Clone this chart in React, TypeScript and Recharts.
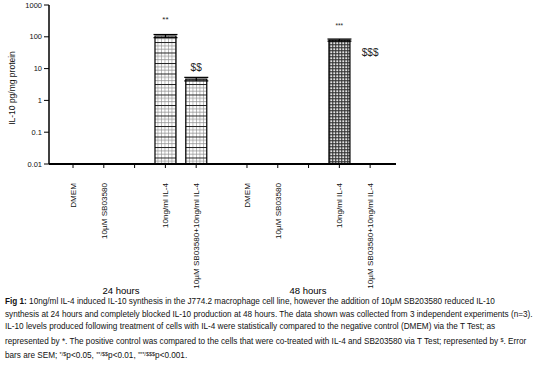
import React from "react";
import { ComposedChart, Bar, Cell, ErrorBar, Scatter, XAxis, YAxis } from "recharts";

// x positions of the groups (gap between 24 h and 48 h)
const positions = [0, 1, 2, 3, 4, 5.65, 6.65, 7.65, 8.65, 9.65];
const labels = [
  "DMEM",
  "10µM SB03580",
  "",
  "10ng/ml IL-4",
  "10µM SB03580+10ng/ml IL-4",
  "DMEM",
  "10µM SB03580",
  "",
  "10ng/ml IL-4",
  "10µM SB03580+10ng/ml IL-4",
];
const means = [null, null, null, 106, 4.7, null, null, null, 79, null];
const sems = [null, null, null, 12, 0.6, null, null, null, 6, null];
const yTicks = [0.01, 0.1, 1, 10, 100, 1000];

// significance markers: category index, text, level in pg/mg
const sigIndex = [3, 4, 8, 9];
const sigText = ["**", "$$", "***", "$$$"];
const sigLevel = [389, 11.2, 253, 31];

const rows = positions.map((x, i) => ({ x, mean: means[i], err: sems[i] }));
const sigRows = sigIndex.map((idx, i) => ({ x: positions[idx], y: sigLevel[i], text: sigText[i] }));

const font = '"Liberation Sans", Arial, Helvetica, sans-serif';

function XTick(props: any) {
  const { x, y, payload } = props;
  const label = labels[positions.indexOf(payload.value)] ?? "";
  const tx = x + 3;
  const ty = y + 13;
  return (
    <text
      x={tx}
      y={ty}
      transform={`rotate(-90 ${tx} ${ty})`}
      textAnchor="end"
      fontSize={8.1}
      fontFamily={font}
      fill="#111"
    >
      {label}
    </text>
  );
}

function SigMark(props: any) {
  const { cx, cy, payload } = props;
  const big = payload.text.includes("$");
  return (
    <text
      x={cx}
      y={cy + (big ? 3.5 : 4)}
      textAnchor="middle"
      fontSize={big ? 10 : payload.text.length > 2 ? 6.5 : 8}
      fontFamily={font}
      fill="#222"
    >
      {payload.text}
    </text>
  );
}

const sup = (s: string) => (
  <span style={{ fontSize: 5.5, position: "relative", top: -2.5 }}>{s}</span>
);

export default function App() {
  const captionLine = (top: number, content: React.ReactNode) => (
    <div
      style={{
        position: "absolute",
        left: 5,
        top,
        fontSize: 8.2,
        lineHeight: "9px",
        whiteSpace: "nowrap",
        color: "#111",
      }}
    >
      {content}
    </div>
  );

  return (
    <div
      style={{
        position: "absolute",
        left: 0,
        top: 0,
        width: 539,
        height: 365,
        background: "#fff",
        fontFamily: font,
      }}
    >
      <svg width={0} height={0} style={{ position: "absolute" }}>
        <defs>
          <pattern id="grid" width={3.5} height={10.5} patternUnits="userSpaceOnUse">
            <rect width={3.5} height={10.5} fill="#fff" />
            <line x1={0.3} y1={0} x2={0.3} y2={10.5} stroke="#888" strokeWidth={0.7} />
            <line x1={0} y1={0.5} x2={3.5} y2={0.5} stroke="#222" strokeWidth={1} />
            <line x1={0} y1={3.8} x2={3.5} y2={3.8} stroke="#888" strokeWidth={0.7} />
            <line x1={0} y1={7.2} x2={3.5} y2={7.2} stroke="#888" strokeWidth={0.7} />
          </pattern>
          <pattern id="check" width={3} height={3} patternUnits="userSpaceOnUse">
            <rect width={3} height={3} fill="#333" />
            <rect x={0.3} y={0.3} width={1.9} height={1.9} fill="#e4e4e4" />
          </pattern>
        </defs>
      </svg>

      <ComposedChart
        width={539}
        height={300}
        data={rows}
        margin={{ top: 5, right: 143, bottom: 0, left: 0 }}
      >
        <XAxis
          type="number"
          dataKey="x"
          domain={[-0.78, 10.49]}
          ticks={positions}
          allowDataOverflow
          interval={0}
          height={136}
          tickSize={4}
          tick={<XTick />}
          tickLine={{ stroke: "#000" }}
          axisLine={{ stroke: "#000", strokeWidth: 2 }}
        />
        <YAxis
          scale="log"
          domain={[0.01, 1000]}
          ticks={yTicks}
          allowDataOverflow
          width={49}
          tickSize={5}
          tickFormatter={(v: number) => String(v)}
          tick={{ fontSize: 7.5, fill: "#111", fontFamily: font }}
          tickLine={{ stroke: "#000" }}
          axisLine={{ stroke: "#000", strokeWidth: 1.5 }}
          label={{
            content: () => (
              <text
                x={15}
                y={88}
                transform="rotate(-90 15 88)"
                textAnchor="middle"
                fontSize={8.5}
                fontFamily={font}
                fill="#111"
              >
                IL-10 pg/mg protein
              </text>
            ),
          }}
        />
        <Bar dataKey="mean" barSize={21} stroke="#000" strokeWidth={1.2} isAnimationActive={false}>
          {rows.map((r, i) => (
            <Cell key={i} fill={i < 5 ? "url(#grid)" : "url(#check)"} />
          ))}
          <ErrorBar dataKey="err" direction="y" width={12} stroke="#000" strokeWidth={1.2} />
        </Bar>
        <Scatter data={sigRows} dataKey="y" shape={<SigMark />} isAnimationActive={false} />
      </ComposedChart>

      <div style={{ position: "absolute", left: 101, width: 40, textAlign: "center", top: 286, fontSize: 9.5, lineHeight: "10px", whiteSpace: "nowrap" }}>
        24 hours
      </div>
      <div style={{ position: "absolute", left: 288, width: 40, textAlign: "center", top: 286, fontSize: 9.5, lineHeight: "10px", whiteSpace: "nowrap" }}>
        48 hours
      </div>

      {captionLine(
        296.5,
        <>
          <b>Fig 1:</b> 10ng/ml IL-4 induced IL-10 synthesis in the J774.2 macrophage cell line, however the addition of 10µM SB203580 reduced IL-10
        </>
      )}
      {captionLine(
        309.5,
        "synthesis at 24 hours and completely blocked IL-10 production at 48 hours. The data shown was collected from 3 independent experiments (n=3)."
      )}
      {captionLine(
        321.5,
        "IL-10 levels produced following treatment of cells with IL-4 were statistically compared to the negative control (DMEM) via the T Test; as"
      )}
      {captionLine(
        337,
        <>
          represented by *. The positive control was compared to the cells that were co-treated with IL-4 and SB203580 via T Test; represented by {sup("$")}. Error
        </>
      )}
      {captionLine(
        351,
        <>
          bars are SEM; {sup("*/$")}p&lt;0.05, {sup("**/$$")}p&lt;0.01, {sup("***/$$$")}p&lt;0.001.
        </>
      )}
    </div>
  );
}
